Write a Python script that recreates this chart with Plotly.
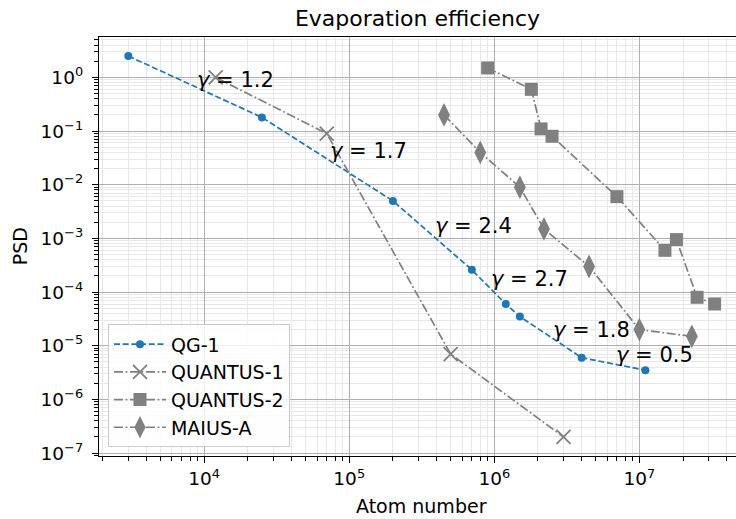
import numpy as np
import plotly.graph_objects as go

# ---- data ----
qg1_x = [3e3, 2.5e4, 2e5, 7e5, 1.2e6, 1.5e6, 4e6, 1.1e7]
qg1_y = [2.5, 0.18, 5e-3, 2.6e-4, 6e-5, 3.5e-5, 6e-6, 3.5e-6]
q1_x = [1.2e4, 7e4, 5e5, 3e6]
q1_y = [1.0, 9e-2, 7e-6, 2e-7]
q2_x = [9e5, 1.8e6, 2.1e6, 2.5e6, 7e6, 1.5e7, 1.8e7, 2.5e7, 3.3e7]
q2_y = [1.5, 0.6, 0.11, 0.08, 6e-3, 6e-4, 9.5e-4, 8e-5, 6e-5]
maius_x = [4.5e5, 8e5, 1.5e6, 2.2e6, 4.5e6, 1e7, 2.3e7]
maius_y = [0.2, 0.04, 9e-3, 1.5e-3, 3e-4, 2e-5, 1.5e-5]

gamma_text = ["1.2", "1.7", "2.4", "2.7", "1.8", "0.5"]
gamma_x = [8.7e3, 7.1e4, 3.8e5, 9.2e5, 2.45e6, 6.7e6]
gamma_y = [0.91, 0.043, 1.7e-3, 1.74e-4, 2.0e-5, 6.6e-6]

x_major = [1e4, 1e5, 1e6, 1e7]
x_major_text = ["10<sup>4</sup>", "10<sup>5</sup>", "10<sup>6</sup>", "10<sup>7</sup>"]
y_major = [1e-7, 1e-6, 1e-5, 1e-4, 1e-3, 1e-2, 1e-1, 1e0]
y_major_text = ["10<sup>\u22127</sup>", "10<sup>\u22126</sup>", "10<sup>\u22125</sup>",
                "10<sup>\u22124</sup>", "10<sup>\u22123</sup>", "10<sup>\u22122</sup>",
                "10<sup>\u22121</sup>", "10<sup>0</sup>"]

FONT = "DejaVu Sans"
BLUE = "#1f77b4"
GRAY = "#808080"
DASH = "6px,2.7px"
DASHDOT = "9px,2.6px,1.8px,2.6px"


def minor_vals(lo, hi):
    return [d * 10.0 ** k for k in range(lo, hi) for d in range(2, 10)]


fig = go.Figure()
fig.add_trace(go.Scatter(x=qg1_x, y=qg1_y, name="QG-1", mode="lines+markers",
                         line=dict(color=BLUE, width=1.7, dash=DASH),
                         marker=dict(symbol="circle", size=8, color=BLUE)))
fig.add_trace(go.Scatter(x=q1_x, y=q1_y, name="QUANTUS-1", mode="lines+markers",
                         line=dict(color=GRAY, width=1.7, dash=DASHDOT),
                         marker=dict(symbol="x-thin", size=14, color=GRAY,
                                     line=dict(color=GRAY, width=1.8))))
fig.add_trace(go.Scatter(x=q2_x, y=q2_y, name="QUANTUS-2", mode="lines+markers",
                         line=dict(color=GRAY, width=1.7, dash=DASHDOT),
                         marker=dict(symbol="square", size=13, color=GRAY)))
fig.add_trace(go.Scatter(x=maius_x, y=maius_y, name="MAIUS-A", mode="lines+markers",
                         line=dict(color=GRAY, width=1.7, dash=DASHDOT),
                         marker=dict(symbol="diamond-tall", size=17, color=GRAY)))

for t, gx, gy in zip(gamma_text, gamma_x, gamma_y):
    fig.add_annotation(x=np.log10(gx), y=np.log10(gy), xref="x", yref="y",
                       text="<i>\u03b3</i> = " + t, showarrow=False,
                       xanchor="left", yanchor="middle",
                       font=dict(family=FONT, size=21, color="black"))

# axis labels
fig.add_annotation(x=0.506, y=(456 - 506) / 418.7, xref="paper", yref="paper",
                   text="Atom number", showarrow=False, xanchor="center", yanchor="middle",
                   font=dict(family=FONT, size=19, color="black"))
fig.add_annotation(x=(20 - 99.3) / 636.7, y=0.5, xref="paper", yref="paper", text="PSD",
                   textangle=-90, showarrow=False, xanchor="center", yanchor="middle",
                   font=dict(family=FONT, size=19, color="black"))

axis_common = dict(
    type="log", showline=True, linecolor="black", linewidth=1.3,
    ticks="outside", ticklen=6, tickwidth=1.2, tickcolor="black",
    showgrid=True, gridcolor="#b0b0b0", gridwidth=1.1,
    tickfont=dict(family=FONT, size=18.5, color="black"),
    zeroline=False,
)

fig.update_xaxes(**axis_common, range=[3.275, 7.666], mirror=True,
                 tickmode="array", tickvals=x_major, ticktext=x_major_text,
                 minor=dict(tickmode="array", tickvals=minor_vals(3, 8), ticks="outside",
                            ticklen=3.5, tickwidth=1, tickcolor="black",
                            showgrid=True, gridcolor="#e8e8e8", gridwidth=1))
fig.update_yaxes(**axis_common, range=[-7.054, 0.753], mirror=False,
                 ticklabelstandoff=5,
                 tickmode="array", tickvals=y_major, ticktext=y_major_text,
                 minor=dict(tickmode="array", tickvals=minor_vals(-8, 1), ticks="outside",
                            ticklen=3.5, tickwidth=1, tickcolor="black",
                            showgrid=True, gridcolor="#e8e8e8", gridwidth=1))

fig.update_layout(
    width=736, height=519,
    margin=dict(l=99, r=0, t=37, b=63),
    paper_bgcolor="white", plot_bgcolor="white",
    font=dict(family=FONT, color="black"),
    title=dict(text="Evaporation efficiency", x=0.5, xref="paper", xanchor="center",
               y=1 - 18 / 519, yref="container", yanchor="middle",
               font=dict(family=FONT, size=22, color="black")),
    legend=dict(x=0.0141, y=0.0208, xanchor="left", yanchor="bottom",
                bgcolor="rgba(255,255,255,0.8)", bordercolor="#cccccc", borderwidth=1,
                font=dict(family=FONT, size=19, color="black"),
                itemwidth=52),
    showlegend=True,
)

fig.write_html("out.html")
